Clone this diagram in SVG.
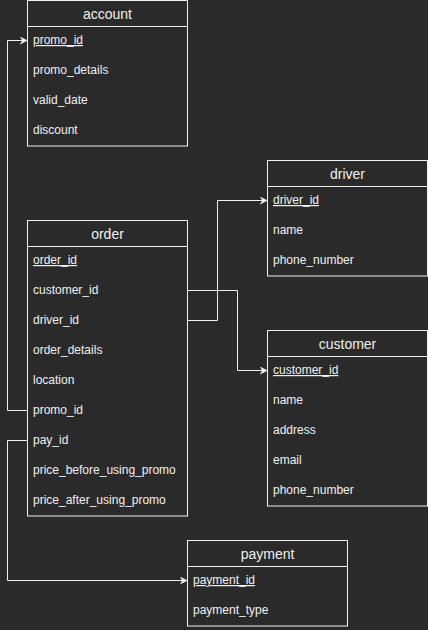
<svg xmlns="http://www.w3.org/2000/svg" width="428" height="630" viewBox="0 0 428 630">
  <defs>
    <marker id="arrow" viewBox="0 0 10 10" refX="9" refY="5" markerWidth="8" markerHeight="8" markerUnits="userSpaceOnUse" orient="auto">
      <path d="M0,0 L10,5 L0,10 L3,5 Z" fill="#f0f0f0"/>
    </marker>
  </defs>
  <style>
    .box { fill: #2a2a2a; stroke: #f0f0f0; stroke-width: 1; }
    .sep { stroke: #f0f0f0; stroke-width: 1; }
    .title { font-family: "Liberation Sans", Arial, sans-serif; font-size: 14px; fill: #f0f0f0; text-anchor: middle; }
    .field { font-family: "Liberation Sans", Arial, sans-serif; font-size: 12px; fill: #f0f0f0; }
    .key { text-decoration: underline; }
    .link { fill: none; stroke: #f0f0f0; stroke-width: 1; marker-end: url(#arrow); }
  </style>
  <rect width="428" height="630" fill="#2a2a2a"/>

  <g id="connectors">
    <path class="link" d="M27.5,410.5 H7.5 V40.5 H27"/>
    <path class="link" d="M27.5,440.5 H7.5 V580.5 H187"/>
    <path class="link" d="M187.5,320.5 H217.5 V200.5 H267"/>
    <path class="link" d="M187.5,290.5 H237.5 V370.5 H267"/>
  </g>

  <g id="account">
    <rect class="box" x="27.5" y="0.5" width="160" height="145.5"/>
    <line class="sep" x1="27.5" y1="26.5" x2="187.5" y2="26.5"/>
    <text class="title" x="107.5" y="19">account</text>
    <text class="field key" x="33" y="44">promo_id</text>
    <text class="field" x="33" y="74">promo_details</text>
    <text class="field" x="33" y="104">valid_date</text>
    <text class="field" x="33" y="134">discount</text>
  </g>

  <g id="driver">
    <rect class="box" x="267.5" y="160.5" width="160" height="115.5"/>
    <line class="sep" x1="267.5" y1="186.5" x2="427.5" y2="186.5"/>
    <text class="title" x="347.5" y="179">driver</text>
    <text class="field key" x="273" y="204">driver_id</text>
    <text class="field" x="273" y="234">name</text>
    <text class="field" x="273" y="264">phone_number</text>
  </g>

  <g id="order">
    <rect class="box" x="27.5" y="220.5" width="160" height="295.5"/>
    <line class="sep" x1="27.5" y1="246.5" x2="187.5" y2="246.5"/>
    <text class="title" x="107.5" y="239">order</text>
    <text class="field key" x="33" y="264">order_id</text>
    <text class="field" x="33" y="294">customer_id</text>
    <text class="field" x="33" y="324">driver_id</text>
    <text class="field" x="33" y="354">order_details</text>
    <text class="field" x="33" y="384">location</text>
    <text class="field" x="33" y="414">promo_id</text>
    <text class="field" x="33" y="444">pay_id</text>
    <text class="field" x="33" y="474">price_before_using_promo</text>
    <text class="field" x="33" y="504">price_after_using_promo</text>
  </g>

  <g id="customer">
    <rect class="box" x="267.5" y="330.5" width="160" height="175.5"/>
    <line class="sep" x1="267.5" y1="356.5" x2="427.5" y2="356.5"/>
    <text class="title" x="347.5" y="349">customer</text>
    <text class="field key" x="273" y="374">customer_id</text>
    <text class="field" x="273" y="404">name</text>
    <text class="field" x="273" y="434">address</text>
    <text class="field" x="273" y="464">email</text>
    <text class="field" x="273" y="494">phone_number</text>
  </g>

  <g id="payment">
    <rect class="box" x="187.5" y="540.5" width="160" height="85.5"/>
    <line class="sep" x1="187.5" y1="566.5" x2="347.5" y2="566.5"/>
    <text class="title" x="267.5" y="559">payment</text>
    <text class="field key" x="193" y="584">payment_id</text>
    <text class="field" x="193" y="614">payment_type</text>
  </g>
</svg>
